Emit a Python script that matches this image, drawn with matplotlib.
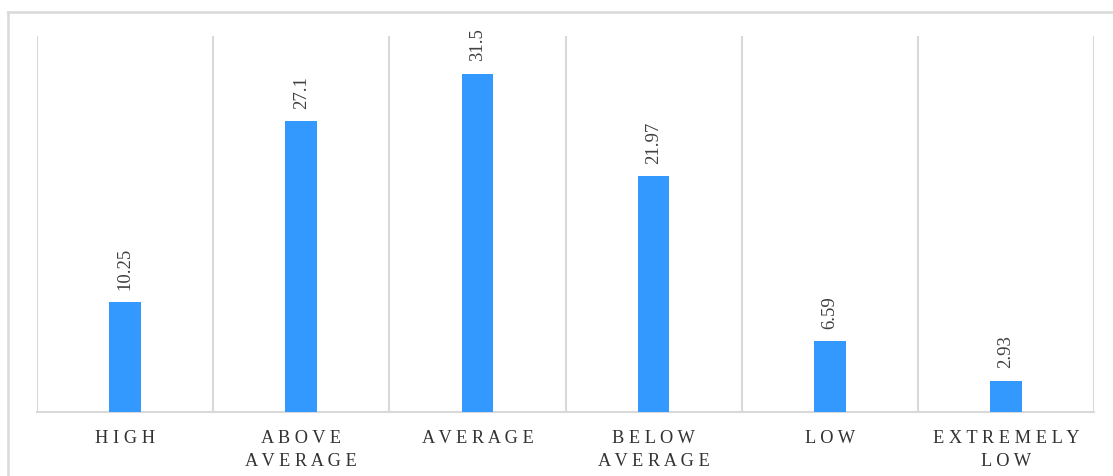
import matplotlib
matplotlib.use("Agg")
import matplotlib.pyplot as plt
from matplotlib.lines import Line2D

categories = ["HIGH", "ABOVE\nAVERAGE", "AVERAGE", "BELOW\nAVERAGE", "LOW", "EXTREMELY\nLOW"]
values = [10.25, 27.1, 31.5, 21.97, 6.59, 2.93]
value_labels = ["10.25", "27.1", "31.5", "21.97", "6.59", "2.93"]

BAR_COLOR = "#3399ff"
GRID_COLOR = "#d9d9d9"
TEXT_COLOR = "#404040"
SERIF = ["Liberation Serif", "DejaVu Serif"]


def spaced(label):
    # wide letter tracking for the category names
    return "\n".join(" ".join(line) for line in label.split("\n"))


W, H = 1113, 477
fig = plt.figure(figsize=(W / 100, H / 100), dpi=100)
ax = fig.add_axes([37 / W, 1 - 413 / H, (1094 - 37) / W, (413 - 37) / H])

x = list(range(len(categories)))
bars = ax.bar(x, values, width=0.18, color=BAR_COLOR, zorder=3)

ax.set_xlim(-0.5, len(categories) - 0.5)
ax.set_ylim(0, 35)

# category separators
for b in range(len(categories) + 1):
    ax.axvline(b - 0.5, color=GRID_COLOR, lw=1.5, zorder=1)

for side in ["left", "right", "top"]:
    ax.spines[side].set_visible(False)
ax.spines["bottom"].set_color(GRID_COLOR)
ax.spines["bottom"].set_linewidth(1.5)

ax.set_yticks([])
ax.set_xticks(x)
ax.set_xticklabels([spaced(c) for c in categories], fontsize=13.2, family=SERIF,
                   color="#333333", linespacing=1.42)
ax.tick_params(axis="x", length=0, pad=12.5)

for rect, lab in zip(bars, value_labels):
    ax.annotate(lab, (rect.get_x() + rect.get_width() / 2, rect.get_height()),
                xytext=(0, 9.5), textcoords="offset points", rotation=90,
                ha="center", va="bottom", fontsize=13.5, family=SERIF, color=TEXT_COLOR)

# outer chart frame
fig.add_artist(Line2D([8 / W, 1], [1 - 13 / H, 1 - 13 / H], color=GRID_COLOR, lw=1.8,
                      transform=fig.transFigure))
fig.add_artist(Line2D([8 / W, 8 / W], [0, 1 - 13 / H], color=GRID_COLOR, lw=1.8,
                      transform=fig.transFigure))

fig.savefig("out.png", dpi=100)
